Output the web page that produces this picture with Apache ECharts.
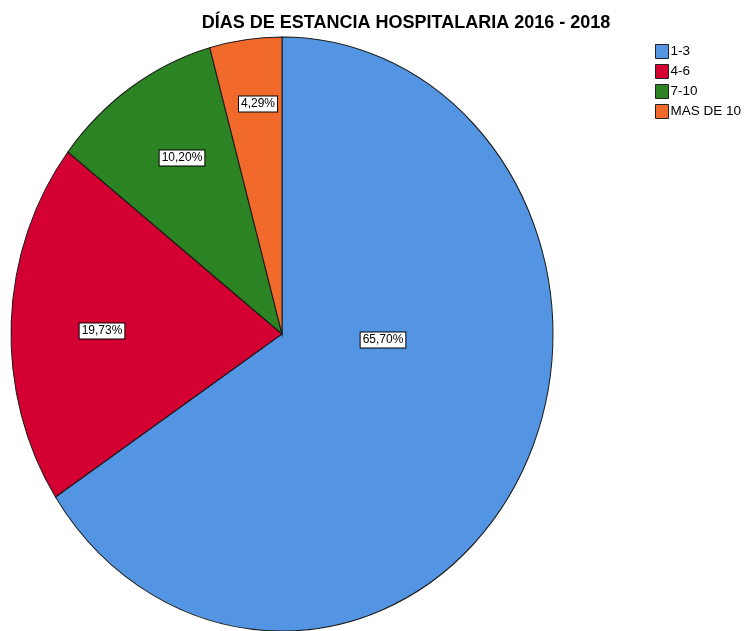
<!DOCTYPE html>
<html>
<head>
<meta charset="utf-8">
<script src="https://cdn.jsdelivr.net/npm/echarts@6/dist/echarts.min.js"></script>
<style>
  html, body { margin: 0; padding: 0; background: #fff; }
  #main { width: 749px; height: 631px; }
</style>
</head>
<body>
<div id="main"></div>
<script>
// Categories and shares (percent)
const categories = ["1-3", "4-6", "7-10", "MAS DE 10"];
const shares = [65.70, 19.73, 10.20, 4.29];
const labels = ["65,70%", "19,73%", "10,20%", "4,29%"];
const colors = ["#5394e3", "#d50032", "#2b8323", "#f16a2c"];

// Pie geometry: the reference pie is an ellipse (taller than wide)
const CX = 282, CY = 334, RX = 271, RY = 297;
// SPSS style label spots
const labelSpots = [[383, 340], [102, 331], [182, 158], [258, 104]];

const FONT = "'Liberation Sans Narrow', 'Liberation Sans', Arial, sans-serif";

const total = shares.reduce((a, b) => a + b, 0);
const before = shares.map((_, i) => shares.slice(0, i).reduce((a, b) => a + b, 0));

const chart = echarts.init(document.getElementById("main"));

function renderSlice(params, api) {
  const i = params.seriesIndex;
  const a0 = -Math.PI / 2 + (api.value(1) / total) * Math.PI * 2;
  const a1 = a0 + (api.value(0) / total) * Math.PI * 2;
  return {
    type: "group",
    children: [
      {
        type: "sector",
        shape: { cx: CX, cy: CY, r: RX, r0: 0, startAngle: a0, endAngle: a1, clockwise: true },
        originX: CX,
        originY: CY,
        scaleY: RY / RX,
        style: { fill: api.visual("color"), stroke: "#1a1a1a", lineWidth: 1, strokeNoScale: true }
      },
      {
        type: "text",
        z2: 10,
        x: labelSpots[i][0],
        y: labelSpots[i][1],
        style: {
          text: labels[i],
          align: "center",
          verticalAlign: "middle",
          font: "12px " + FONT,
          fill: "#000",
          backgroundColor: "#fff",
          borderColor: "#000",
          borderWidth: 1,
          padding: [2, 2, 1, 2]
        }
      }
    ]
  };
}

const option = {
  animation: false,
  color: colors,
  title: {
    text: "DÍAS DE ESTANCIA HOSPITALARIA 2016 - 2018",
    left: 401,
    top: 9,
    textAlign: "center",
    textStyle: {
      fontFamily: FONT,
      fontWeight: "bold",
      fontSize: 18,
      color: "#000"
    }
  },
  legend: {
    orient: "vertical",
    left: 650,
    top: 39,
    itemWidth: 13,
    itemHeight: 14,
    itemGap: 5,
    icon: "rect",
    itemStyle: { borderColor: "#222", borderWidth: 1 },
    textStyle: { fontFamily: FONT, fontSize: 13.5, color: "#000", padding: [0, 0, 0, -3] },
    data: categories
  },
  series: categories.map((c, i) => ({
    type: "custom",
    name: c,
    coordinateSystem: "none",
    renderItem: renderSlice,
    emphasis: { disabled: true },
    data: [[shares[i], before[i]]]
  }))
};

chart.setOption(option);
</script>
</body>
</html>
